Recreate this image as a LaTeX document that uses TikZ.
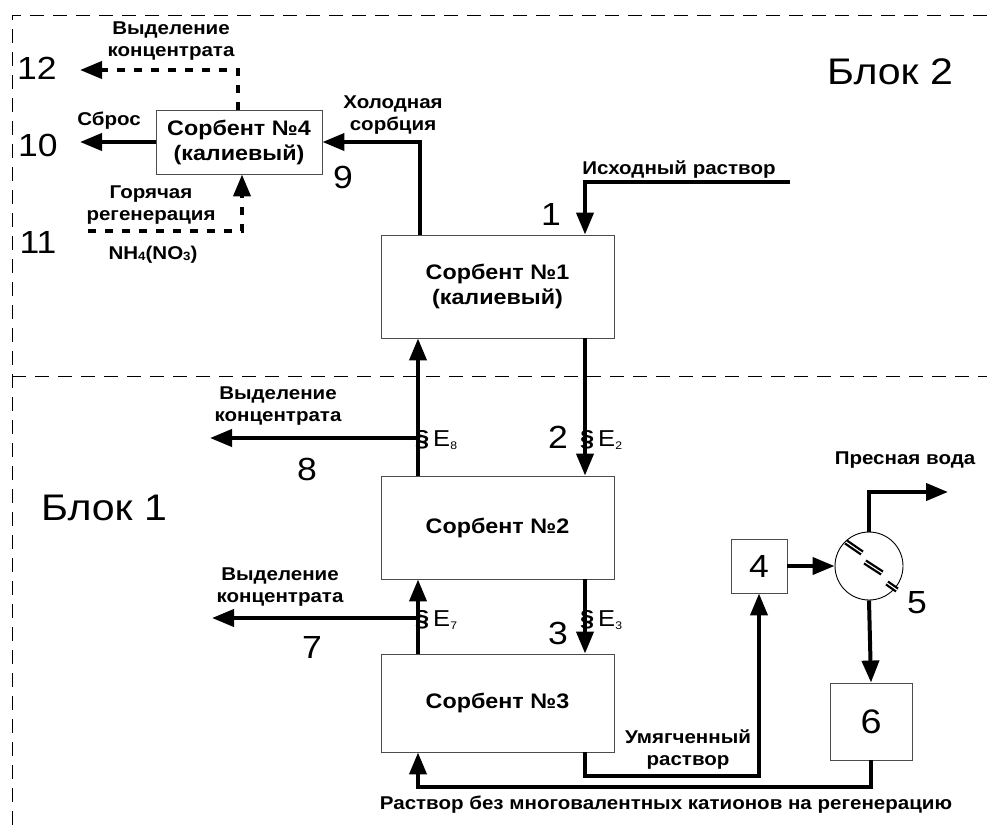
\documentclass[tikz,border=0pt]{standalone}
\usepackage{fontspec}
\setmainfont{Liberation Sans}[FakeStretch=1.11]
\usetikzlibrary{arrows.meta}
\begin{document}
\begin{tikzpicture}[x=1pt,y=-1pt,
  box/.style={draw=black!70,line width=0.9pt,fill=white,align=center,inner sep=0pt},
  boxtxt/.style={font=\bfseries\fontsize{21}{25}\selectfont},
  flow/.style={line width=4pt,-{Triangle[length=22pt,width=17pt]}},
  dotflow/.style={line width=4pt,dash pattern=on 8pt off 9pt,-{Triangle[length=22pt,width=17pt]}},
  border/.style={line width=1pt,dash pattern=on 14pt off 9pt},
  lbl/.style={font=\bfseries\fontsize{18.5}{22}\selectfont,align=center,inner sep=0pt},
  num/.style={font=\fontsize{32}{34}\selectfont,inner sep=0pt},
  blk/.style={font=\fontsize{37}{40}\selectfont,inner sep=0pt},
  eq/.style={font=\fontsize{23}{25}\selectfont,inner sep=0pt,anchor=west},
  mark5/.style={line width=2.3pt,double=white,double distance=1.1pt}
]
\path[use as bounding box] (0,0) rectangle (987,831);
% block borders
\draw[border] (987,15) -- (12,15) -- (12,831);
\draw[border] (12,376) -- (987,376);

% boxes
\node[box,boxtxt,minimum width=166pt,minimum height=64pt] (s4) at (239,142) {Сорбент №4\\(калиевый)};
\node[box,boxtxt,minimum width=233pt,minimum height=103pt] (s1) at (497.5,286.5) {Сорбент №1\\(калиевый)};
\node[box,boxtxt,minimum width=233pt,minimum height=103pt] (s2) at (497.5,527.5) {Сорбент №2};
\node[box,boxtxt,minimum width=233pt,minimum height=98pt] (s3) at (497.5,703) {Сорбент №3};
\node[box,num,minimum width=56pt,minimum height=54pt] (b4) at (759,566) {4};
\node[draw=black,line width=0.9pt,circle,minimum size=68pt,inner sep=0pt] (c5) at (869,566) {};
\node[box,font=\fontsize{34}{36}\selectfont,minimum width=82pt,minimum height=77pt] (b6) at (871,721.5) {6};

% helper coordinates
\coordinate (xR) at (585,0);
\coordinate (xL) at (418,0);
\coordinate (xC) at (420,0);
\coordinate (xT) at (238,0);
\coordinate (xB) at (242,0);
\coordinate (in1) at (790,182);
\coordinate (o10) at (80,142);
\coordinate (o12) at (80,70);
\coordinate (i11) at (88,231);
\coordinate (j8) at (418,438);
\coordinate (o8) at (210,438);
\coordinate (j7) at (418,618);
\coordinate (o7) at (212,618);
\coordinate (yS) at (0,776);
\coordinate (yR) at (0,787);
\coordinate (o5) at (948,492);

% block 2 connectors
\draw[flow] (in1) -| (s1.north -| xR);
\draw[flow] (s1.north -| xC) |- (s4.east);
\draw[flow] (s4.west) -- (o10);
\draw[dotflow] (s4.north -| xT) |- (o12);
\draw[dotflow] (i11) -| (s4.south -| xB);

% between sorbents
\draw[flow] (s1.south -| xR) -- (s2.north -| xR);
\draw[flow] (s2.north -| xL) -- (s1.south -| xL);
\draw[flow] (j8) -- (o8);
\draw[flow] (s2.south -| xR) -- (s3.north -| xR);
\draw[flow] (s3.north -| xL) -- (s2.south -| xL);
\draw[flow] (j7) -- (o7);

% right part
\draw[flow] (s3.south -| xR) |- (b4.south |- yS) -- (b4.south);
\draw[flow] (b6.south) -- (b6.south |- yR) -| (s3.south -| xL);
\draw[flow] (b4.east) -- (c5.west);
\draw[flow] (c5.north) |- (o5);
\draw[flow] (c5.south) -- (b6.north);

% marks in separator
\draw[mark5] (846,542) -- (862,553);
\draw[mark5] (865,562) -- (882,573);
\draw[mark5] (887,583) -- (897,590);

% labels
\node[lbl] (tIn) at (679,170) {Исходный раствор};
\node[num] (n1) at (551,214) {1};
\node[lbl] (tCold) at (393,115) {Холодная\\сорбция};
\node[num] (n9) at (343,177) {9};
\node[num] (n12) at (37,68) {12};
\node[num] (n10) at (38,145) {10};
\node[num] (n11) at (38,242) {11};
\node[lbl] (tSbros) at (109,121) {Сброс};
\node[lbl] (tConc4) at (171,41) {Выделение\\концентрата};
\node[lbl] (tHot) at (151,205) {Горячая\\регенерация};
\node[lbl] (tNH) at (153,255) {NH\raisebox{-0.1ex}{\fontsize{12}{12}\selectfont 4}(NO\raisebox{-0.1ex}{\fontsize{12}{12}\selectfont 3})};
\node[lbl] (tConc8) at (278,406) {Выделение\\концентрата};
\node[num] (n8) at (307,469) {8};
\node[lbl] (tConc7) at (280,587) {Выделение\\концентрата};
\node[num] (n7) at (312,647) {7};
\node[num] (n2) at (558,437) {2};
\node[num] (n3) at (558,633) {3};
\node[eq] (e8) at (415,440) {\textbf{§}\,E\raisebox{-0.2ex}{\fontsize{11}{11}\selectfont 8}};
\node[eq] (e2) at (580,440) {\textbf{§}\,E\raisebox{-0.2ex}{\fontsize{11}{11}\selectfont 2}};
\node[eq] (e7) at (415,620) {\textbf{§}\,E\raisebox{-0.2ex}{\fontsize{11}{11}\selectfont 7}};
\node[eq] (e3) at (580,620) {\textbf{§}\,E\raisebox{-0.2ex}{\fontsize{11}{11}\selectfont 3}};
\node[lbl] (tSoft) at (688,750) {Умягченный\\раствор};
\node[lbl] (tRet) at (666,805) {Раствор без многовалентных катионов на регенерацию};
\node[lbl] (tFresh) at (905,460) {Пресная вода};
\node[num] (n5) at (917,603) {5};
\node[blk] (bl2) at (890,72) {Блок 2};
\node[blk] (bl1) at (104,508) {Блок 1};
\end{tikzpicture}
\end{document}
